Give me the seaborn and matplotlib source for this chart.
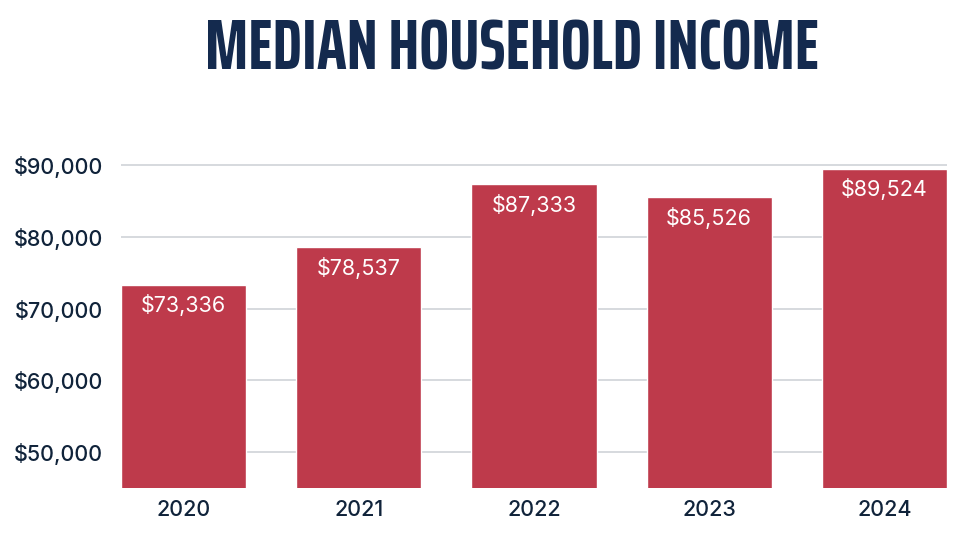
import matplotlib
matplotlib.use("Agg")
import matplotlib.pyplot as plt
from matplotlib import font_manager
from matplotlib.font_manager import FontProperties
import seaborn as sns
import pandas as pd

years = ["2020", "2021", "2022", "2023", "2024"]
income = [73336, 78537, 87333, 85526, 89524]
yticks = [50000, 60000, 70000, 80000, 90000]
title = "MEDIAN HOUSEHOLD INCOME"

bar_color = "#be3a4b"
navy = "#142a4e"
text_dark = "#10233a"

sns.set_theme(style="white")
plt.rcParams['font.family'] = ['Inter', 'DejaVu Sans']

# pick an extra-condensed bold font available for the title
cands = []
for f in font_manager.fontManager.ttflist:
    base_name = f.fname.lower().rsplit('/', 1)[-1]
    score = 0
    if 'extracondensed' in base_name or 'extra condensed' in base_name:
        score += 30
    elif 'semicondensed' in base_name:
        score += 10
    elif 'condensed' in base_name or 'narrow' in base_name:
        score += 20
    else:
        continue
    if 'italic' in base_name or 'oblique' in base_name:
        continue
    if 'extrabold' in base_name:
        score += 8
    elif 'semibold' in base_name:
        score += 5
    elif 'black' in base_name:
        score += 6
    elif 'bold' in base_name:
        score += 9
    cands.append((score, f.fname))
if cands:
    cands.sort(reverse=True)
    title_fp = FontProperties(fname=cands[0][1])
else:
    title_fp = FontProperties(family='Roboto', weight='bold')

df = pd.DataFrame({"year": years, "income": income})

fig = plt.figure(figsize=(9.67, 5.34), dpi=100)
ax = fig.add_axes([121/967, 1-488/534, (947-121)/967, (488-158)/534])

sns.barplot(data=df, x="year", y="income", color=bar_color, width=0.714,
            saturation=1, ax=ax, zorder=3)
ax.set_xlim(-0.357, 4.357)
ax.set_ylim(45000, 91000)
ax.set_yticks(yticks)
ax.set_yticklabels([f"${v:,}" for v in yticks])
ax.set_xlabel("")
ax.set_ylabel("")
for s in ax.spines.values():
    s.set_visible(False)
ax.grid(axis='y', color='#d3d7db', linewidth=1.3, zorder=0)
ax.tick_params(axis='y', length=0, pad=13, labelsize=15.5, labelcolor=text_dark)
ax.tick_params(axis='x', length=0, pad=9, labelsize=15.5, labelcolor=text_dark)
for lab in ax.get_xticklabels() + ax.get_yticklabels():
    lab.set_fontweight(500)

for i, v in enumerate(income):
    ax.annotate(f"${v:,}", xy=(i, v), xytext=(0, -7), textcoords='offset points',
                ha='center', va='top', color='white', fontsize=15.5, zorder=4)

base = 46
t = fig.text(512/967, 1-70/534, title, ha='center', va='baseline', color=navy,
             fontproperties=title_fp, fontsize=base)
fig.canvas.draw()
w = t.get_window_extent().width
size = base * 651 / w
size = min(size, 51)
t.set_fontsize(size)

fig.savefig("out.png", dpi=100)
